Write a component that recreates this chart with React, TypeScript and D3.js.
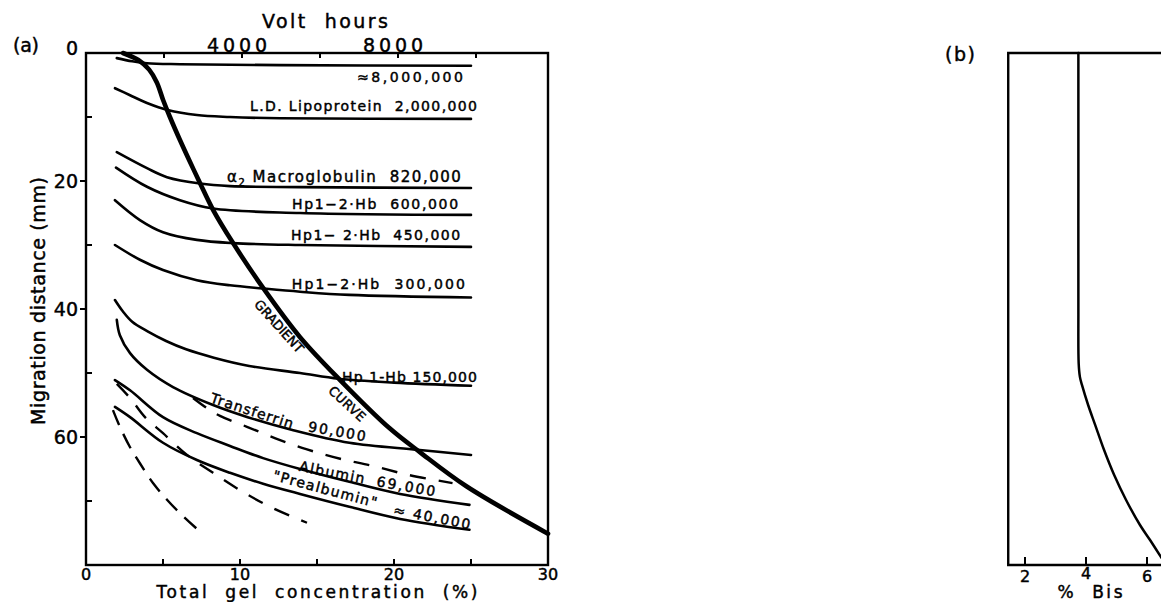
import React from 'react';
import * as d3 from 'd3';

type P = [number, number];

// ---------- axis ticks ----------
const gelMajorTicks = [0, 10, 20, 30];
const gelMinorTicks = [5, 15, 25];
const distMajorTicks = [0, 20, 40, 60];
const distMinorTicks = [10, 30, 50, 70];
const voltTicks = [2000, 4000, 6000, 8000, 10000];
const voltLabelTicks = [4000, 8000];
const bisTicks = [2, 4, 6];

// ---------- panel (a) curves: [total gel %, migration distance mm] ----------
const gradientCurve: P[] = [
  [2.4, 0], [3.4, 1.1], [4.1, 2.6], [4.6, 4.6], [5.0, 7.3], [5.45, 10.0], [6.1, 13.6],
  [6.75, 17.0], [7.4, 20.3], [8.25, 24.5], [9.55, 29.7], [11.5, 36.7], [13.9, 44.4],
  [16.5, 51.1], [19.7, 58.6], [21.7, 62.4], [24.7, 67.7], [30, 75.1],
];
const curve8M: P[] = [[2.0, 0.8], [3.0, 1.3], [3.96, 1.6], [6.1, 1.75], [12.6, 1.9], [25, 2.0]];
const curveLipo: P[] = [
  [1.88, 5.5], [2.86, 6.6], [3.96, 7.8], [5.3, 8.9], [7.2, 9.7], [9.35, 10.0], [12.6, 10.2], [25, 10.3],
];
const curveMacro: P[] = [
  [2.0, 15.5], [3.96, 18.0], [5.26, 19.4], [7.4, 20.4], [9.35, 20.8], [13.9, 20.95], [25, 21.1],
];
const curveHp600: P[] = [
  [1.95, 17.9], [3.96, 20.9], [6.1, 23.0], [8.25, 24.3], [13.9, 25.0], [25, 25.3],
];
const curveHp450: P[] = [
  [1.88, 23.0], [3.5, 26.1], [5.0, 28.0], [7.2, 29.2], [9.55, 29.7], [13.9, 30.0], [25, 30.3],
];
const curveHp300: P[] = [
  [1.88, 30.0], [3.5, 32.3], [5.0, 33.9], [7.2, 35.5], [9.35, 36.3], [11.5, 36.8],
  [13.9, 37.3], [17.1, 37.8], [25, 38.2],
];
const curveHp150: P[] = [
  [1.88, 38.6], [2.4, 40.4], [3.0, 42.0], [4.0, 43.5], [5.2, 45.0], [6.5, 46.3],
  [8.3, 47.6], [10.6, 48.9], [13.9, 50.0], [16.4, 50.9], [20, 51.5], [25, 52.0],
];
const curveTransferrin: P[] = [
  [2.0, 41.7], [2.2, 44.1], [2.86, 46.9], [3.96, 49.5], [5.65, 52.2], [8.25, 55.0],
  [10.5, 56.9], [13.4, 58.9], [17.1, 60.9], [21.5, 62.0], [25, 62.8],
];
const curveAlbumin: P[] = [
  [1.88, 51.1], [2.86, 52.7], [5.0, 56.9], [7.2, 59.4], [9.35, 61.4], [11.5, 63.3],
  [13.9, 65.0], [17.1, 67.0], [20.4, 68.9], [24.9, 70.6],
];
const curvePrealbumin: P[] = [
  [1.88, 55.3], [2.86, 56.9], [5.0, 60.9], [7.2, 63.6], [9.35, 65.6], [11.5, 67.3],
  [13.9, 68.9], [17.1, 70.9], [20.4, 72.8], [24.9, 74.5],
];
const dashedUpper: P[] = [
  [6.95, 53.9], [7.86, 55.5], [8.7, 56.7], [10.45, 58.4], [12.3, 60.2], [14.3, 61.9],
  [16.5, 63.4], [18.6, 64.5], [20.9, 65.9], [23.8, 67.2],
];
const dashedMiddle: P[] = [
  [2.0, 51.7], [2.86, 53.9], [3.83, 56.9], [5.0, 59.4], [6.56, 62.8], [8.25, 65.6],
  [9.99, 68.3], [11.95, 70.9], [14.35, 73.4],
];
const dashedLower: P[] = [
  [1.75, 55.8], [2.2, 58.4], [2.86, 61.6], [3.5, 64.1], [4.35, 67.2], [5.26, 69.8],
  [6.1, 71.9], [7.27, 74.5],
];

// ---------- panel (b) curve: [% Bis, migration distance mm] ----------
const bisCurve: P[] = [
  [3.75, 0], [3.75, 20], [3.75, 40], [3.76, 48.5], [3.8, 50.6], [3.87, 51.9], [4.07, 55.0],
  [4.3, 58.1], [4.59, 62.0], [4.92, 65.9], [5.31, 69.8], [5.77, 73.75], [6.1, 76.1],
  [6.46, 78.75], [6.69, 80.5],
];

// ---------- labels ----------
const flatLabels = [
  { text: '≈8,000,000', x: 24.48, y: 4.5, len: 106 },
  { text: 'L.D. Lipoprotein  2,000,000', x: 25.39, y: 9.1, len: 227 },
  { text: 'Hp1−2·Hb  600,000', x: 24.16, y: 24.4, len: 166 },
  { text: 'Hp1− 2·Hb  450,000', x: 24.29, y: 29.2, len: 169 },
  { text: 'Hp1−2·Hb  300,000', x: 24.6, y: 36.9, len: 173 },
  { text: 'Hp 1-Hb 150,000', x: 25.39, y: 51.4, len: 135 },
];
const macroLabel = { x: 9.16, y: 20.1 };
const tiltedLabels = [
  { text: 'Transferrin', x: 10.78, y: 55.9, angle: 18, len: 86 },
  { text: '90,000', x: 16.3, y: 59.1, angle: 10, len: 58 },
  { text: 'Albumin', x: 15.97, y: 65.5, angle: 11, len: 66 },
  { text: '69,000', x: 20.78, y: 67.7, angle: 10, len: 59 },
  { text: '"Prealbumin"', x: 15.52, y: 68.1, angle: 15, len: 107 },
  { text: '≈ 40,000', x: 22.47, y: 72.5, angle: 11, len: 78 },
  { text: 'GRADIENT', x: 12.53, y: 42.7, angle: 48, len: 66 },
  { text: 'CURVE', x: 16.95, y: 54.8, angle: 43, len: 45 },
];

const FONT = "'DejaVu Sans', Verdana, sans-serif";

export default function App() {
  const x = d3.scaleLinear().domain([0, 30]).range([86, 548]);
  const y = d3.scaleLinear().domain([0, 80]).range([53, 565]);
  const xv = d3.scaleLinear().domain([0, 10000]).range([86, 476]);
  const xb = d3.scaleLinear().domain([2, 6]).range([1025, 1147]);

  const lineA = d3.line<P>().x(d => x(d[0])).y(d => y(d[1])).curve(d3.curveCatmullRom.alpha(0.5));
  const lineB = d3.line<P>().x(d => xb(d[0])).y(d => y(d[1])).curve(d3.curveCatmullRom.alpha(0.5));

  const solid = [curve8M, curveLipo, curveMacro, curveHp600, curveHp450, curveHp300, curveHp150,
    curveTransferrin, curveAlbumin, curvePrealbumin];

  const x0 = x(0), x30 = x(30), yTop = y(0), yBot = y(80);
  const bLeft = xb(1.45), bRight = xb(7.8);

  return (
    <svg width={1161} height={602} viewBox="0 0 1161 602"
      style={{ position: 'absolute', left: 0, top: 0, display: 'block', background: '#fff' }}
      fontFamily={FONT}>
      <style>{'text { fill: #000; stroke: #000; stroke-width: 0.45px; }'}</style>
      <rect x={0} y={0} width={1161} height={602} fill="#fff" />

      {/* ===== Panel (a) ===== */}
      <text x={13} y={45} fontSize={19} dominantBaseline="central" textLength={26}>(a)</text>

      {/* frame */}
      <rect x={x0} y={yTop} width={x30 - x0} height={yBot - yTop} fill="none" stroke="#000" strokeWidth={2.4} />

      {/* left axis ticks */}
      {distMajorTicks.filter(v => v > 0).map(v => (
        <line key={'lm' + v} x1={x0 - 6} x2={x0} y1={y(v)} y2={y(v)} stroke="#000" strokeWidth={2} />
      ))}
      {distMinorTicks.map(v => (
        <line key={'ln' + v} x1={x0} x2={x0 + 6} y1={y(v)} y2={y(v)} stroke="#000" strokeWidth={2} />
      ))}
      {distMajorTicks.map(v => (
        <text key={'lt' + v} x={x0 - 8} y={y(v) + (v === 0 ? -5 : 0)} fontSize={19} textAnchor="end"
          dominantBaseline="central">{v}</text>
      ))}

      {/* bottom axis ticks */}
      {[...gelMajorTicks.filter(v => v > 0 && v < 30), ...gelMinorTicks].map(v => (
        <line key={'bt' + v} x1={x(v)} x2={x(v)} y1={yBot} y2={yBot - 6} stroke="#000" strokeWidth={2} />
      ))}
      {gelMajorTicks.map(v => (
        <text key={'bl' + v} x={x(v)} y={574} fontSize={16} textAnchor="middle" dominantBaseline="central">{v}</text>
      ))}
      <text x={317} y={592} fontSize={17} textAnchor="middle" dominantBaseline="central" textLength={321}
        lengthAdjust="spacing" style={{ whiteSpace: 'pre' }}>Total  gel  concentration  (%)</text>

      {/* top axis (volt hours) */}
      {voltTicks.map(v => (
        <line key={'vt' + v} x1={xv(v)} x2={xv(v)} y1={yTop} y2={yTop + 5} stroke="#000" strokeWidth={2} />
      ))}
      {voltLabelTicks.map(v => (
        <text key={'vl' + v} x={xv(v) - 5} y={45} fontSize={19} textAnchor="middle" dominantBaseline="central"
          textLength={60} lengthAdjust="spacing">{v}</text>
      ))}
      <text x={325} y={21} fontSize={19} textAnchor="middle" dominantBaseline="central" textLength={126}
        lengthAdjust="spacing" style={{ whiteSpace: 'pre' }}>Volt  hours</text>

      {/* y title */}
      <text transform="translate(38,301) rotate(-90)" fontSize={19} textAnchor="middle" dominantBaseline="central"
        textLength={248} lengthAdjust="spacing">Migration distance (mm)</text>

      {/* curves */}
      {solid.map((c, i) => (
        <path key={'s' + i} d={lineA(c) || ''} fill="none" stroke="#000" strokeWidth={2.6}
          strokeLinecap="round" strokeLinejoin="round" />
      ))}
      <path d={lineA(dashedUpper) || ''} fill="none" stroke="#000" strokeWidth={2.4} strokeDasharray="16,13" />
      <path d={lineA(dashedMiddle) || ''} fill="none" stroke="#000" strokeWidth={2.4} strokeDasharray="16,13" />
      <path d={lineA(dashedLower) || ''} fill="none" stroke="#000" strokeWidth={2.4} strokeDasharray="16,10" />
      <path d={lineA(gradientCurve) || ''} fill="none" stroke="#000" strokeWidth={4.6}
        strokeLinecap="round" strokeLinejoin="round" />

      {/* flat labels */}
      {flatLabels.map(l => (
        <text key={l.text} x={x(l.x)} y={y(l.y)} fontSize={14} textAnchor="end" textLength={l.len}
          lengthAdjust="spacing" style={{ whiteSpace: 'pre' }}>{l.text}</text>
      ))}
      <text x={x(macroLabel.x)} y={y(macroLabel.y)} fontSize={15} letterSpacing={1.5} style={{ whiteSpace: 'pre' }}>
        α<tspan dy={4} fontSize={10}>2</tspan><tspan dy={-4}>{' Macroglobulin  820,000'}</tspan>
      </text>

      {/* tilted labels */}
      {tiltedLabels.map(l => (
        <text key={l.text} transform={`translate(${x(l.x)},${y(l.y)}) rotate(${l.angle})`} fontSize={l.angle > 30 ? 13 : 14}
          textAnchor="middle" dominantBaseline="central" textLength={l.len} lengthAdjust="spacing"
          style={{ whiteSpace: 'pre' }}>{l.text}</text>
      ))}

      {/* ===== Panel (b) ===== */}
      <text x={960} y={54} fontSize={19} textAnchor="middle" dominantBaseline="central" textLength={30}>(b)</text>
      <path d={`M${bRight},${yTop} H${bLeft} V${yBot} H${bRight}`} fill="none" stroke="#000" strokeWidth={2.4} />
      {bisTicks.map(v => (
        <line key={'bb' + v} x1={xb(v)} x2={xb(v)} y1={yBot} y2={yBot - 8} stroke="#000" strokeWidth={2} />
      ))}
      {bisTicks.map(v => (
        <text key={'bbl' + v} x={xb(v)} y={v === 4 ? 573 : 576} fontSize={16} textAnchor="middle"
          dominantBaseline="central">{v}</text>
      ))}
      <text x={1090} y={592} fontSize={17} textAnchor="middle" dominantBaseline="central" textLength={65}
        lengthAdjust="spacing" style={{ whiteSpace: 'pre' }}>%  Bis</text>
      <path d={lineB(bisCurve) || ''} fill="none" stroke="#000" strokeWidth={2.5} strokeLinecap="round" />
    </svg>
  );
}
